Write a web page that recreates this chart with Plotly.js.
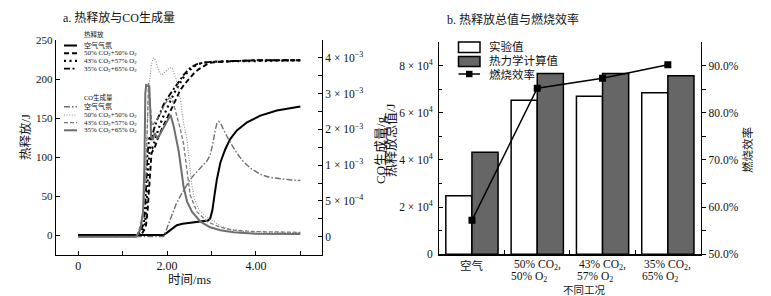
<!DOCTYPE html>
<html><head><meta charset="utf-8">
<script src="https://cdn.plot.ly/plotly-3.0.1.min.js"></script>
<style>html,body{margin:0;padding:0;background:#fff}</style>
</head><body><div id="chart" style="width:771px;height:296px"></div>
<script>
// ---------- Panel a: heat release (J) and CO (10^-3 g) vs time (ms) ----------
const t_heat_air = [0, 1.92, 2.0, 2.1, 2.22, 2.35, 2.52, 2.7, 2.82, 2.92, 2.97, 3.02, 3.07, 3.12, 3.2, 3.31, 3.42, 3.57, 3.8, 4.1, 4.47, 5.0];
const heat_air   = [0, 0, 3, 7.5, 12.5, 14.5, 15.8, 16.5, 17.2, 18.5, 21, 32, 52, 71, 93, 110, 123, 134, 144.5, 153, 159.5, 164.7];

const t_heat_50 = [0, 1.35, 1.45, 1.52, 1.56, 1.6, 1.65, 1.72, 1.8, 1.9, 2.0, 2.1, 2.2, 2.3, 2.4, 2.5, 2.6, 2.7, 2.8, 2.9, 3.0, 3.2, 3.5, 4.0, 5.0];
const heat_50   = [0, 0, 3, 10, 30, 70, 105, 112, 125, 138, 150, 162, 175, 186, 194, 201, 207, 212, 216, 219, 221, 222, 223, 224, 224];

const t_heat_43 = [0, 1.32, 1.42, 1.5, 1.54, 1.58, 1.62, 1.67, 1.72, 1.8, 1.9, 2.0, 2.1, 2.2, 2.3, 2.4, 2.5, 2.6, 2.7, 2.8, 3.0, 3.5, 4.0, 5.0];
const heat_43   = [0, 0, 4, 12, 40, 90, 115, 112, 120, 135, 150, 163, 175, 186, 196, 205, 211, 216, 219, 221, 222, 223, 223, 224];

const t_heat_35 = [0, 1.3, 1.4, 1.48, 1.52, 1.56, 1.6, 1.65, 1.7, 1.77, 1.85, 1.92, 2.0, 2.07, 2.15, 2.22, 2.3, 2.37, 2.45, 2.52, 2.6, 2.67, 2.82, 3.0, 3.5, 4.0, 5.0];
const heat_35   = [0, 0, 5, 15, 50, 105, 125, 122, 135, 147, 157, 167, 175, 181, 187, 193, 199, 205, 210, 214, 217, 219, 221, 222, 223, 224, 224];

const t_co_air = [0, 1.92, 2.0, 2.1, 2.2, 2.3, 2.4, 2.5, 2.6, 2.7, 2.8, 2.9, 2.97, 3.03, 3.08, 3.12, 3.16, 3.2, 3.3, 3.4, 3.57, 3.7, 3.87, 4.1, 4.3, 4.5, 4.75, 5.0];
const co_air   = [0, 0, 0.12, 0.3, 0.45, 0.57, 0.68, 0.78, 0.86, 0.93, 0.99, 1.06, 1.14, 1.3, 1.48, 1.58, 1.61, 1.59, 1.46, 1.34, 1.17, 1.06, 0.96, 0.87, 0.83, 0.81, 0.795, 0.785];

const t_co_50 = [0, 1.35, 1.45, 1.5, 1.55, 1.6, 1.65, 1.7, 1.75, 1.82, 1.88, 1.95, 2.05, 2.11, 2.16, 2.22, 2.3, 2.37, 2.45, 2.5, 2.55, 2.62, 2.72, 2.85, 2.97, 3.2, 3.42, 3.72, 4.2, 5.0];
const co_50   = [0, 0, 0.2, 0.8, 1.6, 2.15, 2.42, 2.5, 2.45, 2.3, 2.26, 2.3, 2.36, 2.36, 2.28, 2.17, 1.91, 1.59, 1.35, 1.05, 0.75, 0.52, 0.37, 0.29, 0.24, 0.15, 0.1, 0.07, 0.06, 0.056];

const t_co_43 = [0, 1.33, 1.45, 1.52, 1.55, 1.58, 1.62, 1.66, 1.75, 1.85, 1.95, 2.05, 2.12, 2.2, 2.3, 2.37, 2.45, 2.52, 2.67, 2.9, 3.2, 3.5, 4.0, 5.0];
const co_43   = [0, 0, 0.3, 0.8, 1.4, 2.15, 1.85, 1.55, 1.62, 1.72, 1.85, 1.94, 1.92, 1.75, 1.5, 1.3, 0.89, 0.58, 0.35, 0.21, 0.13, 0.09, 0.07, 0.06];

const t_co_35 = [0, 1.3, 1.4, 1.46, 1.49, 1.51, 1.53, 1.6, 1.62, 1.64, 1.68, 1.72, 1.78, 1.83, 1.9, 2.0, 2.08, 2.15, 2.22, 2.26, 2.33, 2.37, 2.45, 2.56, 2.75, 2.97, 3.2, 3.5, 4.0, 5.0];
const co_35   = [0, 0, 0.1, 0.35, 1.0, 2.0, 2.12, 2.1, 1.8, 1.4, 1.35, 1.45, 1.38, 1.42, 1.5, 1.62, 1.7, 1.54, 1.35, 1.2, 0.89, 0.7, 0.49, 0.35, 0.21, 0.13, 0.09, 0.06, 0.04, 0.035];

const timeTickVals = [0, 2, 4];
const timeTickText = ['0', '2.00', '4.00'];
const heatTickVals = [0, 50, 100, 150, 200, 250];
const coTickVals = [0, 0.5, 1, 1.5, 2, 2.5];
const coTickText = ['0', '5 × 10<sup>−4</sup>', '1 × 10<sup>−3</sup>', '2 × 10<sup>−3</sup>', '3 × 10<sup>−3</sup>', '4 × 10<sup>−3</sup>'];

// ---------- Panel b: total heat release and combustion efficiency ----------
const categories = ['空气', '50/50', '43/57', '35/65'];
const categoryLine1 = ['空气', '50% CO<sub>2</sub>,', '43% CO<sub>2</sub>,', '35% CO<sub>2</sub>,'];
const categoryLine2 = ['', '50% O<sub>2</sub>', '57% O<sub>2</sub>', '65% O<sub>2</sub>'];
const experimental = [24800, 65300, 67000, 68500];
const thermodynamic = [43300, 76600, 76600, 75700];
const efficiency = [57.2, 85.2, 87.3, 90.2];
const totalTickVals = [0, 20000, 40000, 60000, 80000];
const totalTickText = ['0', '2 × 10<sup>4</sup>', '4 × 10<sup>4</sup>', '6 × 10<sup>4</sup>', '8 × 10<sup>4</sup>'];
const effTickVals = [50, 60, 70, 80, 90];
const effTickText = ['50.0%', '60.0%', '70.0%', '80.0%', '90.0%'];

const W = 771, H = 296;
const px = x => x / W;
const py = y => 1 - y / H;
const FONT = "'Liberation Serif', 'Times New Roman', 'Noto Sans CJK SC', serif";
const INK = '#111';
const GRAY = '#6e6e6e';

const heatStyles = [
  {name: '空气气氛', t: t_heat_air, v: heat_air, line: {color: '#000', width: 2, dash: 'solid'}},
  {name: '50% CO<sub>2</sub>+50% O<sub>2</sub>', t: t_heat_50, v: heat_50, line: {color: '#000', width: 1.9, dash: '5px,3px'}},
  {name: '43% CO<sub>2</sub>+57% O<sub>2</sub>', t: t_heat_43, v: heat_43, line: {color: '#000', width: 2.2, dash: '2px,3.5px'}},
  {name: '35% CO<sub>2</sub>+65% O<sub>2</sub>', t: t_heat_35, v: heat_35, line: {color: '#000', width: 1.9, dash: '6px,2.5px,2px,2.5px'}}
];
const coStyles = [
  {name: '空气气氛', t: t_co_air, v: co_air, line: {color: GRAY, width: 1.4, dash: '6px,2px,1.5px,2px'}},
  {name: '50% CO<sub>2</sub>+50% O<sub>2</sub>', t: t_co_50, v: co_50, line: {color: '#8a8a8a', width: 1.1, dash: '1px,1.6px'}},
  {name: '43% CO<sub>2</sub>+57% O<sub>2</sub>', t: t_co_43, v: co_43, line: {color: '#7a7a7a', width: 1.3, dash: '4px,2px'}},
  {name: '35% CO<sub>2</sub>+65% O<sub>2</sub>', t: t_co_35, v: co_35, line: {color: GRAY, width: 2, dash: 'solid'}}
];

const traces = [];
coStyles.forEach(s => traces.push({type: 'scatter', mode: 'lines', x: s.t, y: s.v, xaxis: 'x', yaxis: 'y2', line: s.line, showlegend: false, hoverinfo: 'skip'}));
heatStyles.forEach(s => traces.push({type: 'scatter', mode: 'lines', x: s.t, y: s.v, xaxis: 'x', yaxis: 'y', line: s.line, showlegend: false, hoverinfo: 'skip'}));

traces.push({type: 'bar', x: categories, y: experimental, xaxis: 'x2', yaxis: 'y3', offsetgroup: 'a',
  marker: {color: '#ffffff', line: {color: '#000', width: 1.5}}, showlegend: false});
traces.push({type: 'bar', x: categories, y: thermodynamic, xaxis: 'x2', yaxis: 'y3', offsetgroup: 'b',
  marker: {color: '#666666', line: {color: '#000', width: 1.5}}, showlegend: false});
traces.push({type: 'scatter', mode: 'lines+markers', x: categories, y: efficiency, xaxis: 'x2', yaxis: 'y4',
  line: {color: '#000', width: 1.5}, marker: {symbol: 'square', size: 7, color: '#000'}, showlegend: false});

const axisBase = {showline: true, linecolor: '#000', linewidth: 1.3, showgrid: false, zeroline: false,
  ticks: 'inside', ticklen: 4, tickwidth: 1, tickcolor: '#000', tickfont: {size: 11, color: INK, family: FONT}};

const annotations = [];
const shapes = [];
function txt(text, x, y, size, opts) {
  annotations.push(Object.assign({text: text, x: px(x), y: py(y), xref: 'paper', yref: 'paper', showarrow: false,
    font: {size: size, color: INK, family: FONT}, xanchor: 'center', yanchor: 'middle'}, opts || {}));
}
txt('a. 热释放与CO生成量', 119, 17, 12);
txt('b. 热释放总值与燃烧效率', 513, 20, 12);
txt('时间/ms', 189, 280, 12.5);
txt('热释放/J', 25, 137, 12.5, {textangle: -90});
txt('CO生成量/g', 380, 150, 13, {textangle: -90});
txt('热释放总值/J', 390, 140, 13, {textangle: -90});
txt('燃烧效率', 747, 150, 11.5, {textangle: -90});
txt('不同工况', 584, 290, 10.5);

// category labels of panel b, placed on the category axis
categories.forEach((c, i) => {
  annotations.push({text: categoryLine1[i], x: c, xref: 'x2', y: py(265), yref: 'paper', showarrow: false,
    font: {size: 11.5, color: INK, family: FONT}, xanchor: 'center', yanchor: 'middle'});
  if (categoryLine2[i]) annotations.push({text: categoryLine2[i], x: c, xref: 'x2', y: py(277), yref: 'paper', showarrow: false,
    font: {size: 11.5, color: INK, family: FONT}, xanchor: 'center', yanchor: 'middle', xshift: -8});
});

// panel a manual legend
txt('热释放', 81.5, 34.5, 6.5, {xanchor: 'left'});
const heatRows = [45.5, 53.2, 60.9, 68.6];
heatStyles.forEach((s, i) => {
  shapes.push({type: 'line', xref: 'paper', yref: 'paper', x0: px(64), x1: px(77), y0: py(heatRows[i]), y1: py(heatRows[i]),
    line: {color: s.line.color, width: s.line.width, dash: s.line.dash}});
  txt(s.name, 81.5, heatRows[i], 7, {xanchor: 'left'});
});
txt('CO生成量', 81.5, 97.7, 6.5, {xanchor: 'left'});
const coRows = [106.8, 115, 122.7, 130.3];
coStyles.forEach((s, i) => {
  shapes.push({type: 'line', xref: 'paper', yref: 'paper', x0: px(64), x1: px(77), y0: py(coRows[i]), y1: py(coRows[i]),
    line: {color: s.line.color, width: s.line.width, dash: s.line.dash}});
  txt(s.name, 81.5, coRows[i], 7, {xanchor: 'left'});
});

// panel b manual legend
shapes.push({type: 'rect', xref: 'paper', yref: 'paper', x0: px(458.5), x1: px(480), y0: py(52.5), y1: py(42), fillcolor: '#fff', line: {color: '#000', width: 1.5}});
shapes.push({type: 'rect', xref: 'paper', yref: 'paper', x0: px(458.5), x1: px(480), y0: py(66.5), y1: py(56.5), fillcolor: '#666', line: {color: '#000', width: 1.5}});
shapes.push({type: 'line', xref: 'paper', yref: 'paper', x0: px(458.5), x1: px(480), y0: py(74), y1: py(74), line: {color: '#000', width: 1.5}});
shapes.push({type: 'rect', xref: 'paper', yref: 'paper', x0: px(466), x1: px(472.5), y0: py(77.2), y1: py(70.8), fillcolor: '#000', line: {color: '#000', width: 0}});
txt('实验值', 486.5, 46.5, 11.5, {xanchor: 'left'});
txt('热力学计算值', 486.5, 60.5, 11.5, {xanchor: 'left'});
txt('燃烧效率', 486.5, 74, 11.5, {xanchor: 'left'});

const layout = {
  width: W, height: H, margin: {l: 0, r: 0, t: 0, b: 0},
  paper_bgcolor: '#fff', plot_bgcolor: '#fff',
  font: {family: FONT, color: INK, size: 11},
  showlegend: false, barmode: 'group', bargap: 0.2, bargroupgap: 0,
  xaxis: Object.assign({}, axisBase, {domain: [px(56), px(321.7)], range: [-0.5, 5.48], anchor: 'y',
    tickmode: 'array', tickvals: timeTickVals, ticktext: timeTickText, tickfont: {size: 12, color: INK, family: FONT},
    minor: {tickmode: 'array', tickvals: [1, 3, 5], ticks: 'inside', ticklen: 4, tickcolor: '#000'}}),
  yaxis: Object.assign({}, axisBase, {domain: [py(254.5), py(40)], range: [-25, 250], anchor: 'x',
    tickmode: 'array', tickvals: heatTickVals}),
  yaxis2: Object.assign({}, axisBase, {overlaying: 'y', side: 'right', anchor: 'x', range: [-0.25, 2.75],
    tickmode: 'array', tickvals: coTickVals, ticktext: coTickText, tickfont: {size: 11.5, color: INK, family: FONT},
    minor: {tickmode: 'array', tickvals: [0.25, 0.75, 1.25, 1.75, 2.25], ticks: 'inside', ticklen: 4, tickcolor: '#000'}}),
  xaxis2: Object.assign({}, axisBase, {domain: [px(439.3), px(700.5)], range: [-0.5, 3.5], anchor: 'y3', type: 'category',
    categoryorder: 'array', categoryarray: categories, showticklabels: false, tickson: 'boundaries'}),
  yaxis3: Object.assign({}, axisBase, {domain: [py(254.3), py(42)], range: [0, 90000], anchor: 'x2',
    tickmode: 'array', tickvals: totalTickVals, ticktext: totalTickText, tickfont: {size: 11.5, color: INK, family: FONT},
    ticklabelstandoff: 3,
    minor: {tickmode: 'array', tickvals: [10000, 30000, 50000, 70000], ticks: 'inside', ticklen: 3, tickcolor: '#000'}}),
  yaxis4: Object.assign({}, axisBase, {overlaying: 'y3', side: 'right', anchor: 'x2', range: [50, 95],
    tickmode: 'array', tickvals: effTickVals, ticktext: effTickText, ticks: 'outside', ticklen: 4.5,
    tickfont: {size: 11.5, color: INK, family: FONT},
    minor: {tickmode: 'array', tickvals: [55, 65, 75, 85], ticks: 'outside', ticklen: 4.5, tickcolor: '#000'}}),
  annotations: annotations,
  shapes: shapes
};

Plotly.newPlot('chart', traces, layout, {staticPlot: true, displayModeBar: false});
</script></body></html>
